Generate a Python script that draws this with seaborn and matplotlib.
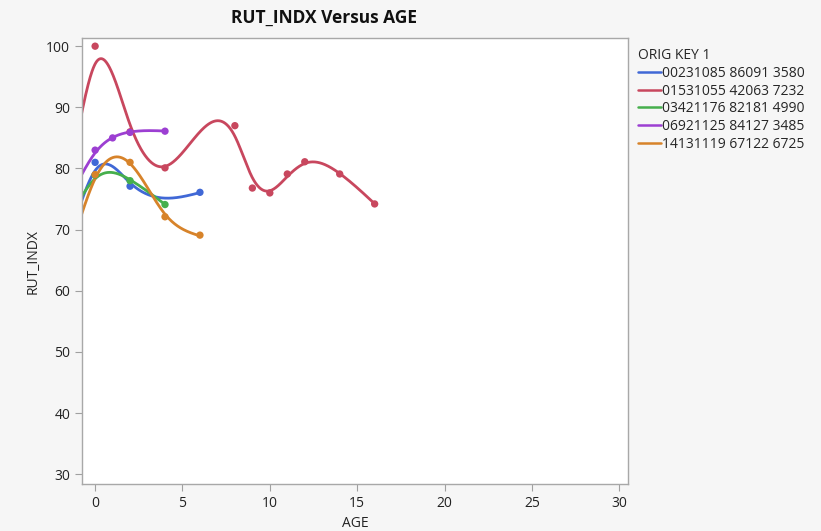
import numpy as np
import pandas as pd
import matplotlib
matplotlib.use("Agg")
import matplotlib.pyplot as plt
import seaborn as sns

# data (the AGE -1 rows sit just left of the
# visible x range; their values are estimated from where the curves enter)
keys = ["00231085 86091 3580", "01531055 42063 7232", "03421176 82181 4990",
        "06921125 84127 3485", "14131119 67122 6725"]
colors = ["#4068D6", "#C8475E", "#46AF4C", "#9C3FD2", "#D7832A"]

age_blue = [-1, 0, 2, 6]
rut_blue = [72.0, 81.0, 77.1, 76.1]
age_red = [-1, 0, 2, 4, 8, 9, 10, 11, 12, 14, 16]
rut_red = [84.0, 100.0, 86.0, 80.1, 87.0, 76.8, 76.0, 79.1, 81.1, 79.1, 74.2]
age_green = [-1, 0, 2, 4]
rut_green = [74.0, 78.9, 78.0, 74.1]
age_purple = [-1, 0, 1, 2, 4]
rut_purple = [77.5, 83.0, 85.0, 85.9, 86.1]
age_orange = [-1, 0, 2, 4, 6]
rut_orange = [70.0, 79.0, 81.0, 72.1, 69.1]

ages = [age_blue, age_red, age_green, age_purple, age_orange]
ruts = [rut_blue, rut_red, rut_green, rut_purple, rut_orange]

XMIN, XMAX = -0.75, 30.5
YMIN, YMAX = 28.4, 101.3


def smooth_spline(x, y, lam, h=0.02):
    """penalised (Whittaker) smoothing spline on a fine grid"""
    x = np.asarray(x, float)
    y = np.asarray(y, float)
    x0 = x.min()
    grid = np.arange(x0, x.max() + h / 2, h)
    n = len(grid)
    idx = np.clip(np.round((x - x0) / h).astype(int), 0, n - 1)
    W = np.zeros((n, n))
    b = np.zeros(n)
    for i, v in zip(idx, y):
        W[i, i] += 1.0
        b[i] += v
    D = np.diff(np.eye(n), 2, axis=0) / h ** 2
    A = W + lam * h * D.T @ D
    return grid, np.linalg.solve(A, b)


pts = pd.DataFrame({
    "AGE": np.concatenate(ages),
    "RUT_INDX": np.concatenate(ruts),
    "ORIG KEY 1": np.repeat(keys, [len(a) for a in ages]),
})

curves = []
for k, a, r in zip(keys, ages, ruts):
    gx, gy = smooth_spline(a, r, 0.1)
    curves.append(pd.DataFrame({"AGE": gx, "RUT_INDX": gy, "ORIG KEY 1": k}))
curves = pd.concat(curves, ignore_index=True)

sns.set_style("white")
plt.rcParams["font.family"] = ["Open Sans", "DejaVu Sans"]

fig = plt.figure(figsize=(8.21, 5.31), dpi=100, facecolor="#F6F6F6")
ax = fig.add_axes([0.0999, 0.0885, 0.665, 0.8395])
ax.set_facecolor("white")

pal = dict(zip(keys, colors))
sns.lineplot(data=curves, x="AGE", y="RUT_INDX", hue="ORIG KEY 1", palette=pal,
             linewidth=2, ax=ax, legend=True, sort=False, estimator=None)
sns.scatterplot(data=pts, x="AGE", y="RUT_INDX", hue="ORIG KEY 1", palette=pal,
                s=28, edgecolor="none", ax=ax, legend=False, zorder=3)

ax.set_xlim(XMIN, XMAX)
ax.set_ylim(YMIN, YMAX)
ax.set_xticks(range(0, 31, 5))
ax.set_yticks(range(30, 101, 10))
ax.tick_params(direction="out", length=5, color="#A0A0A0", labelsize=10,
               labelcolor="#222222", bottom=True, left=True)
for sp in ax.spines.values():
    sp.set_color("#A8A8A8")
    sp.set_linewidth(1)
ax.set_xlabel("AGE", fontsize=10, color="#222222")
ax.set_ylabel("RUT_INDX", fontsize=10, color="#222222")

fig.text(324 / 821, 1 - 18 / 531, "RUT_INDX Versus AGE", ha="center", va="center",
         fontsize=12.5, fontweight="bold", color="#111111")

leg = ax.legend(title="ORIG KEY 1", loc="upper left", bbox_to_anchor=(1.0, 1.0),
                frameon=False, fontsize=10, title_fontsize=10, handlelength=1.7,
                handletextpad=0.05, labelspacing=0.2, borderaxespad=0.3)
leg._legend_box.align = "left"
for line in leg.get_lines():
    line.set_linewidth(1.8)

fig.savefig("out.png", dpi=100, facecolor=fig.get_facecolor())
